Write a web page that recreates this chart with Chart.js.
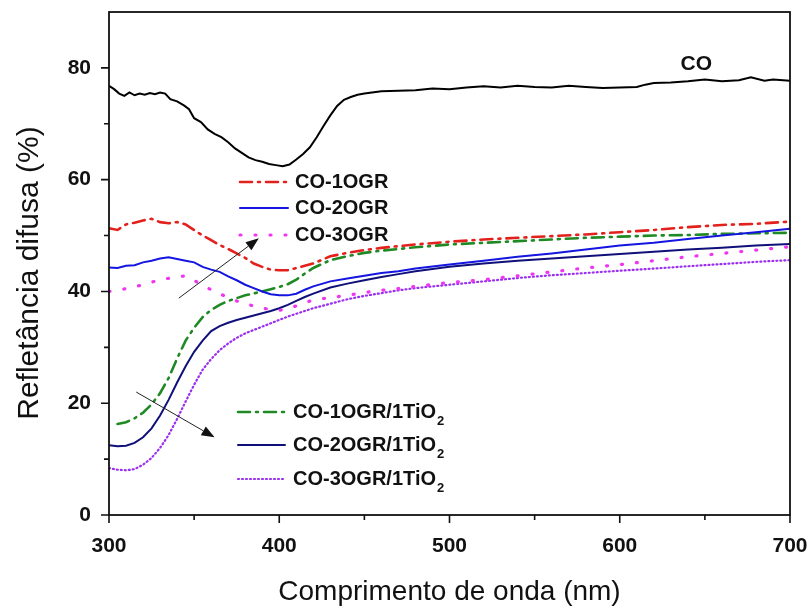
<!DOCTYPE html>
<html>
<head>
<meta charset="utf-8">
<script src="https://cdn.jsdelivr.net/npm/chart.js@4/dist/chart.umd.min.js"></script>
<style>
  html, body { margin: 0; padding: 0; background: #fff; }
  #wrap { width: 812px; height: 610px; }
</style>
</head>
<body>
<div id="wrap"><canvas id="grafico" width="812" height="610"></canvas></div>
<script>
// comprimento de onda (nm) e refletancia (%) de cada amostra
var nmCO = [300,303,306,309,312,315,318,321,324,327,330,333,336,340,344,347,350,354,358,362,366,370,374,378,382,386,390,394,398,402,406,410,414,418,422,426,430,434,438,442,446,450,460,470,480,490,500,510,520,530,540,550,560,570,580,590,600,610,615,620,630,640,650,660,670,677,685,690,700];
var refCO = [76.8,76.2,75.4,75.0,75.6,75.1,75.4,75.2,75.5,75.3,75.6,75.4,74.4,74.0,73.3,72.6,71.0,70.3,69.0,68.2,67.6,66.7,65.6,64.8,64.0,63.5,63.2,62.8,62.6,62.4,62.7,63.6,64.6,65.8,67.6,69.6,71.5,73.2,74.3,74.8,75.2,75.4,75.8,75.9,76.0,76.3,76.2,76.5,76.7,76.5,76.8,76.6,76.5,76.8,76.6,76.4,76.5,76.6,77.0,77.3,77.4,77.6,77.9,77.6,77.8,78.3,77.7,77.9,77.7];

var nmGR = [300,305,310,315,320,325,330,335,340,345,350,355,360,365,370,375,380,385,390,395,400,405,410,415,420,430,440,450,460,470,480,500,520,540,560,580,600,620,640,660,680,700];
var ref1OGR = [51.3,51.0,52.0,52.3,52.7,53.0,52.4,52.2,52.4,52.0,51.0,50.0,49.2,48.3,47.6,46.8,46.0,45.0,44.4,43.9,43.8,43.8,44.2,44.6,45.0,46.3,46.9,47.4,47.8,48.1,48.4,48.9,49.3,49.6,49.9,50.2,50.6,51.0,51.5,51.9,52.1,52.5];
var ref2OGR = [44.3,44.2,44.6,44.7,45.2,45.5,45.9,46.1,45.8,45.5,45.2,44.4,43.9,43.5,42.7,42.0,41.2,40.6,40.0,39.5,39.3,39.3,39.6,40.3,40.9,41.8,42.3,42.8,43.3,43.6,44.1,44.8,45.5,46.2,46.8,47.5,48.2,48.7,49.4,50.0,50.6,51.2];

var nm3OGR = [300,310,320,330,340,345,350,355,360,365,370,375,380,385,390,400,410,420,430,440,450,460,470,480,500,520,540,560,580,600,620,640,660,680,700];
var ref3OGR = [40.0,40.5,41.2,42.1,42.6,42.8,42.0,41.1,40.3,39.6,38.9,38.3,37.8,37.4,37.0,36.6,37.4,38.5,38.9,39.3,39.8,40.2,40.5,40.9,41.6,42.1,42.8,43.5,44.2,44.8,45.5,46.2,46.8,47.4,48.0];

var nmTi1 = [305,310,315,320,325,330,335,340,345,350,355,360,365,370,380,390,395,400,405,410,415,420,430,440,450,460,470,480,500,520,540,560,580,600,620,640,660,680,700];
var ref1Ti = [16.3,16.6,17.3,18.3,19.8,21.8,24.5,28.0,31.2,33.5,35.4,36.7,37.6,38.3,39.3,40.0,40.4,40.8,41.3,42.1,43.2,44.2,45.6,46.3,46.9,47.3,47.6,47.9,48.4,48.7,49.0,49.3,49.6,49.8,50.0,50.1,50.3,50.4,50.5];

var nmTi = [300,305,310,315,320,325,330,335,340,345,350,355,360,365,370,375,380,385,390,395,400,405,410,415,420,430,440,450,460,470,480,500,520,540,560,580,600,620,640,660,680,700];
var ref2Ti = [12.5,12.3,12.4,12.9,13.9,15.5,17.8,20.6,23.7,26.6,29.2,31.2,32.9,33.8,34.4,34.9,35.3,35.7,36.1,36.5,37.0,37.6,38.3,39.0,39.6,40.7,41.4,42.0,42.6,43.1,43.6,44.4,45.0,45.5,45.9,46.3,46.7,47.1,47.5,47.8,48.2,48.5];
var ref3Ti = [8.4,8.1,8.0,8.2,9.0,10.2,12.0,14.3,17.2,20.3,23.3,26.0,27.9,29.5,30.7,31.7,32.5,33.1,33.7,34.3,34.9,35.5,36.0,36.5,37.0,37.8,38.6,39.2,39.7,40.2,40.6,41.2,41.8,42.4,42.9,43.3,43.7,44.1,44.5,44.9,45.3,45.6];

// setas (inicio e fim, em nm e %)
var seta1 = [341, 38.8, 388, 49.5];
var seta2 = [316, 22.0, 362, 13.9];

var fonte = '"Liberation Sans", Arial, sans-serif';

function pontos(xs, ys) {
    var arr = [];
    for (var i = 0; i < xs.length; i++) {
        arr.push({ x: xs[i], y: ys[i] });
    }
    return arr;
}

function serie(nome, xs, ys, cor, largura, traco) {
    return {
        label: nome,
        data: pontos(xs, ys),
        borderColor: cor,
        borderWidth: largura,
        borderDash: traco,
        borderCapStyle: 'round',
        pointRadius: 0,
        tension: 0,
        fill: false
    };
}

var series = [
    serie('CO', nmCO, refCO, '#000000', 2, []),
    serie('CO-1OGR', nmGR, ref1OGR, '#e3211c', 2.6, [12, 6, 2, 6]),
    serie('CO-2OGR', nmGR, ref2OGR, '#1515e0', 2, []),
    serie('CO-3OGR', nm3OGR, ref3OGR, '#f035f0', 3.2, [1, 14]),
    serie('CO-1OGR/1TiO2', nmTi1, ref1Ti, '#1f8a24', 2.6, [12, 6, 2, 6]),
    serie('CO-2OGR/1TiO2', nmTi, ref2Ti, '#10107a', 2, []),
    serie('CO-3OGR/1TiO2', nmTi, ref3Ti, '#9a2ff0', 2.2, [1, 3])
];

// legenda desenhada a mao: dois grupos, linha de exemplo + texto
function legenda(ctx, ds, x0, x1, xt, y) {
    ctx.save();
    ctx.strokeStyle = ds.borderColor;
    ctx.lineWidth = ds.borderWidth;
    ctx.lineCap = 'round';
    ctx.setLineDash(ds.borderDash);
    ctx.beginPath();
    ctx.moveTo(x0, y);
    ctx.lineTo(x1, y);
    ctx.stroke();
    ctx.setLineDash([]);
    ctx.fillStyle = '#111';
    ctx.font = 'bold 20px ' + fonte;
    ctx.textBaseline = 'middle';
    ctx.textAlign = 'left';
    var txt = ds.label;
    var sub = '';
    if (txt.slice(-1) === '2' && txt.indexOf('TiO') > 0) {
        txt = txt.slice(0, -1);
        sub = '2';
    }
    ctx.fillText(txt, xt, y);
    if (sub) {
        var w = ctx.measureText(txt).width;
        ctx.font = 'bold 13px ' + fonte;
        ctx.fillText(sub, xt + w + 1, y + 9);
    }
    ctx.restore();
}

function seta(ctx, xs, ys, s) {
    var ax = xs.getPixelForValue(s[0]), ay = ys.getPixelForValue(s[1]);
    var bx = xs.getPixelForValue(s[2]), by = ys.getPixelForValue(s[3]);
    var ang = Math.atan2(by - ay, bx - ax);
    var L = 13, W = 5;
    ctx.save();
    ctx.strokeStyle = '#222';
    ctx.fillStyle = '#111';
    ctx.lineWidth = 1;
    ctx.beginPath();
    ctx.moveTo(ax, ay);
    ctx.lineTo(bx - L * Math.cos(ang), by - L * Math.sin(ang));
    ctx.stroke();
    ctx.beginPath();
    ctx.moveTo(bx, by);
    ctx.lineTo(bx - L * Math.cos(ang) + W * Math.sin(ang), by - L * Math.sin(ang) - W * Math.cos(ang));
    ctx.lineTo(bx - L * Math.cos(ang) - W * Math.sin(ang), by - L * Math.sin(ang) + W * Math.cos(ang));
    ctx.closePath();
    ctx.fill();
    ctx.restore();
}

// as escalas nao reservam espaco extra para os rotulos nas pontas
function semFolga(s) {
    s.paddingTop = 0;
    s.paddingBottom = 0;
    s.paddingLeft = 0;
    s.paddingRight = 0;
}

var extras = {
    id: 'extras',
    afterDatasetsDraw: function (chart) {
        var ctx = chart.ctx;
        var a = chart.chartArea;
        var xs = chart.scales.x, ys = chart.scales.y;
        var i, p;

        // moldura
        ctx.save();
        ctx.strokeStyle = '#111';
        ctx.lineWidth = 1.8;
        ctx.strokeRect(a.left, a.top, a.right - a.left, a.bottom - a.top);

        // marcas dos eixos (maiores e menores, para fora)
        ctx.lineWidth = 1.6;
        ctx.beginPath();
        for (i = 300; i <= 700; i += 50) {
            p = xs.getPixelForValue(i);
            ctx.moveTo(p, a.bottom);
            ctx.lineTo(p, a.bottom + (i % 100 === 0 ? 8 : 5));
        }
        for (i = 0; i <= 80; i += 10) {
            p = ys.getPixelForValue(i);
            ctx.moveTo(a.left, p);
            ctx.lineTo(a.left - (i % 20 === 0 ? 8 : 5), p);
        }
        ctx.stroke();

        // titulos dos eixos
        ctx.fillStyle = '#111';
        ctx.font = '28px ' + fonte;
        ctx.textAlign = 'center';
        ctx.textBaseline = 'middle';
        ctx.fillText('Comprimento de onda (nm)', (a.left + a.right) / 2, 592);
        ctx.save();
        ctx.translate(30, 273);
        ctx.rotate(-Math.PI / 2);
        ctx.font = '30px ' + fonte;
        ctx.fillText('Refletância difusa (%)', 0, 0);
        ctx.restore();

        // rotulo da curva CO
        ctx.font = 'bold 21px ' + fonte;
        ctx.fillText('CO', xs.getPixelForValue(645), ys.getPixelForValue(80.7));
        ctx.restore();

        seta(ctx, xs, ys, seta1);
        seta(ctx, xs, ys, seta2);

        var ds = chart.data.datasets;
        legenda(ctx, ds[1], 240, 288, 295, 182);
        legenda(ctx, ds[2], 240, 288, 295, 208);
        legenda(ctx, ds[3], 240, 288, 295, 235);
        legenda(ctx, ds[4], 238, 285, 293, 412);
        legenda(ctx, ds[5], 238, 285, 293, 445);
        legenda(ctx, ds[6], 238, 285, 293, 479);
    }
};

var ctx = document.getElementById('grafico').getContext('2d');
var grafico = new Chart(ctx, {
    type: 'line',
    data: { datasets: series },
    options: {
        responsive: false,
        animation: false,
        parsing: false,
        layout: { padding: { left: 0, right: 22, top: 12, bottom: 0 } },
        plugins: {
            legend: { display: false },
            tooltip: { enabled: false }
        },
        scales: {
            x: {
                type: 'linear',
                min: 300,
                max: 700,
                grid: { display: false, drawTicks: false },
                border: { display: false },
                ticks: {
                    stepSize: 100,
                    padding: 19,
                    color: '#111',
                    maxRotation: 0,
                    font: { family: fonte, size: 21, weight: 'bold' }
                },
                afterFit: function (s) { s.height = 95; semFolga(s); }
            },
            y: {
                type: 'linear',
                min: 0,
                max: 90,
                grid: { display: false, drawTicks: false },
                border: { display: false },
                ticks: {
                    stepSize: 20,
                    includeBounds: false,
                    padding: 18,
                    color: '#111',
                    font: { family: fonte, size: 21, weight: 'bold' }
                },
                afterFit: function (s) { s.width = 109; semFolga(s); }
            }
        }
    },
    plugins: [extras]
});
</script>
</body>
</html>
